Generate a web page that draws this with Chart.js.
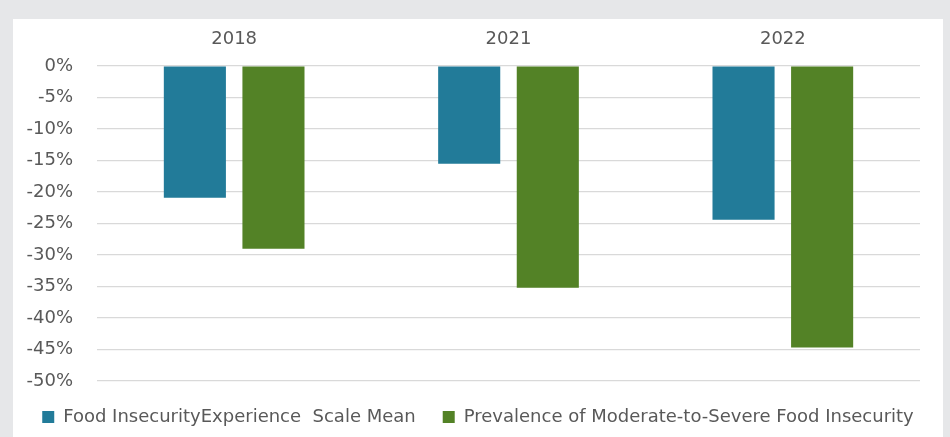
<!DOCTYPE html>
<html>
<head>
<meta charset="utf-8">
<script src="https://cdn.jsdelivr.net/npm/chart.js@4"></script>
<style>
  html, body { margin: 0; padding: 0; }
  body { width: 950px; height: 437px; background: #e6e7e9; position: relative; overflow: hidden; }
  .panel { position: absolute; left: 13px; top: 19px; width: 930px; height: 418px; background: #ffffff; }
  .panel canvas { display: block; }
</style>
</head>
<body>
<div class="panel"><canvas id="myChart" width="930" height="418"></canvas></div>
<script>
// Категории и значения (доля изменения)
const years = ["2018", "2021", "2022"];
const scaleMean = [-0.209, -0.155, -0.244];
const prevalence = [-0.29, -0.352, -0.447];
const seriesNames = [
  "Food InsecurityExperience  Scale Mean",
  "Prevalence of Moderate-to-Severe Food Insecurity",
];

const textColor = "#595959";
const fontFamily = "'DejaVu Sans', sans-serif";

const data = {
  labels: years,
  datasets: [
    {
      label: seriesNames[0],
      data: scaleMean,
      backgroundColor: "#227b99",
      categoryPercentage: 0.573,
      barPercentage: 0.79,
    },
    {
      label: seriesNames[1],
      data: prevalence,
      backgroundColor: "#538226",
      categoryPercentage: 0.573,
      barPercentage: 0.79,
    },
  ],
};

const config = {
  type: "bar",
  data,
  options: {
    responsive: false,
    animation: false,
    layout: { padding: { left: 0, right: 0, top: 0, bottom: 1 } },
    scales: {
      x: {
        position: "top",
        grid: { display: false, drawTicks: false },
        border: { display: false },
        ticks: { color: textColor, font: { family: fontFamily, size: 18 }, padding: 16 },
        afterFit: (scale) => { scale.height = 47; },
      },
      y: {
        min: -0.5,
        max: 0,
        grid: { color: "#d9d9d9", lineWidth: 1.2, drawTicks: false },
        border: { display: false },
        ticks: {
          stepSize: 0.05,
          color: textColor,
          font: { family: fontFamily, size: 18 },
          padding: 24,
          callback: (v) => Math.round(v * 100) + "%",
        },
        afterFit: (scale) => { scale.width = 84; },
      },
      // пустая ось справа — только отступ
      yRight: {
        position: "right",
        grid: { display: false, drawTicks: false },
        border: { display: false },
        ticks: { display: false },
        afterFit: (scale) => { scale.width = 23; },
      },
    },
    plugins: {
      legend: {
        position: "bottom",
        labels: {
          color: textColor,
          font: { family: fontFamily, size: 18 },
          boxWidth: 12,
          boxHeight: 12,
          padding: 27,
        },
      },
      tooltip: { enabled: false },
    },
  },
};

const myChart = new Chart(document.getElementById("myChart"), config);
</script>
</body>
</html>
